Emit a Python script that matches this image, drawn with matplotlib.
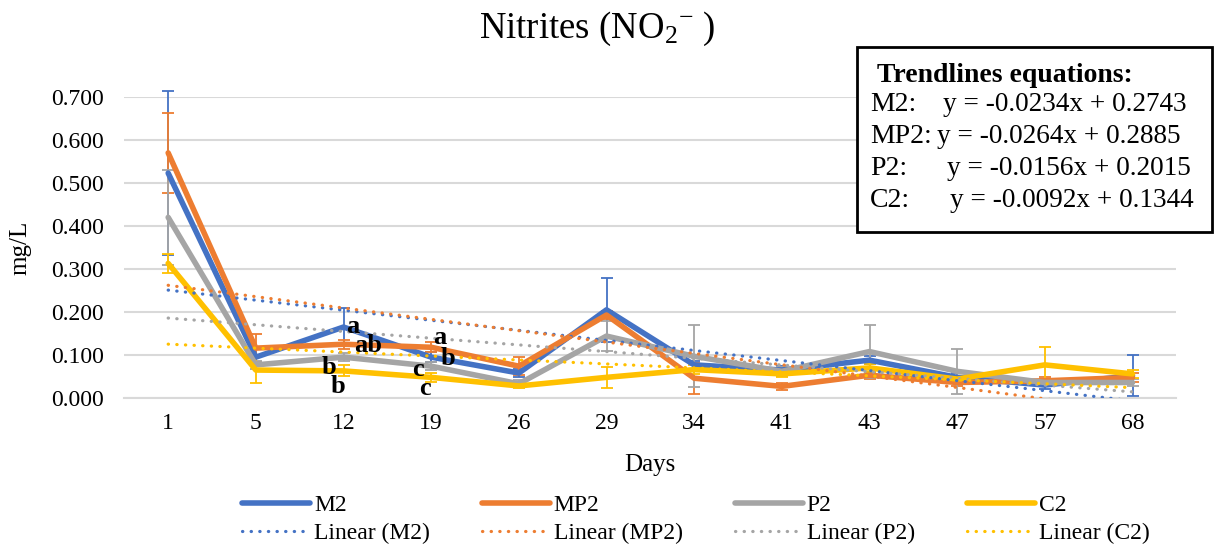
import matplotlib
matplotlib.use('Agg')
import matplotlib.pyplot as plt
import numpy as np

plt.rcParams['font.family'] = ['Liberation Serif', 'DejaVu Serif']
plt.rcParams['mathtext.fontset'] = 'custom'
plt.rcParams['mathtext.rm'] = 'Liberation Serif'
plt.rcParams['mathtext.it'] = 'Liberation Serif:italic'

days = ['1', '5', '12', '19', '26', '29', '34', '41', '43', '47', '57', '68']
series = ['M2', 'MP2', 'P2', 'C2']
colors = ['#4472C4', '#ED7D31', '#A5A5A5', '#FFC000']

m2 = [0.523, 0.095, 0.165, 0.095, 0.058, 0.205, 0.077, 0.065, 0.088, 0.048, 0.030, 0.052]
mp2 = [0.570, 0.116, 0.125, 0.118, 0.074, 0.193, 0.046, 0.027, 0.053, 0.036, 0.040, 0.048]
p2 = [0.420, 0.077, 0.095, 0.074, 0.033, 0.144, 0.097, 0.062, 0.108, 0.062, 0.036, 0.036]
c2 = [0.313, 0.065, 0.063, 0.048, 0.028, 0.048, 0.066, 0.056, 0.070, 0.044, 0.077, 0.056]

m2_err = [0.19, 0.02, 0.045, 0.012, 0.010, 0.075, 0.010, 0.010, 0.010, 0.010, 0.010, 0.047]
mp2_err = [0.093, 0.033, 0.010, 0.012, 0.021, 0.010, 0.036, 0.008, 0.008, 0.008, 0.008, 0.010]
p2_err = [0.110, 0.010, 0.010, 0.010, 0.008, 0.035, 0.072, 0.010, 0.062, 0.052, 0.008, 0.008]
c2_err = [0.023, 0.030, 0.013, 0.010, 0.005, 0.025, 0.010, 0.008, 0.010, 0.008, 0.041, 0.010]

# linear trendlines (x = position index 1..12)
slopes = [-0.0234, -0.0264, -0.0156, -0.0092]
intercepts = [0.2743, 0.2885, 0.2015, 0.1344]

# significance letters: (x position, y, text)
letters_x = [3.11, 3.28, 2.83, 2.94, 4.10, 4.19, 3.85, 3.93]
letters_y = [0.167, 0.121, 0.070, 0.026, 0.140, 0.092, 0.066, 0.021]
letters_txt = ['a', 'ab', 'b', 'b', 'a', 'b', 'c', 'c']

values = [m2, mp2, p2, c2]
errors = [m2_err, mp2_err, p2_err, c2_err]

fig = plt.figure(figsize=(12.19, 5.47), dpi=100)
ax = fig.add_axes([0.102, 0.2724, 0.863, 0.5503])

x = np.arange(1, len(days) + 1)
main_lines, trend_lines = [], []
for i, (name, vals, err, col) in enumerate(zip(series, values, errors, colors)):
    ax.errorbar(x, vals, yerr=err, fmt='none', ecolor=col, elinewidth=1.3,
                capsize=4, capthick=1.3, zorder=2 + i * 0.1, clip_on=False)
    ln, = ax.plot(x, vals, color=col, lw=4, solid_joinstyle='round',
                  solid_capstyle='round', zorder=3 + i * 0.1, label=name)
    main_lines.append(ln)

for i, (name, s, b, col) in enumerate(zip(series, slopes, intercepts, colors)):
    ln, = ax.plot(x, s * x + b, color=col, lw=2.3, linestyle=(0, (0.1, 2.6)),
                  dash_capstyle='round', zorder=4 + i * 0.1, label=f'Linear ({name})')
    trend_lines.append(ln)

for lx, ly, t in zip(letters_x, letters_y, letters_txt):
    ax.text(lx, ly, t, fontsize=19, fontweight='bold', ha='center', va='center', zorder=6)

ax.set_xlim(0.5, len(days) + 0.5)
ax.set_ylim(0, 0.7)
ax.set_yticks(np.arange(0, 0.71, 0.1))
ax.set_yticklabels([f'{v:.3f}' for v in np.arange(0, 0.71, 0.1)])
ax.set_xticks(x)
ax.set_xticklabels(days)
ax.tick_params(axis='both', length=0, labelsize=17)
ax.tick_params(axis='y', pad=15)
ax.tick_params(axis='x', pad=11)
ax.grid(axis='y', color='#D9D9D9', lw=1.5)
ax.set_axisbelow(True)
for sp in ['top', 'right', 'left']:
    ax.spines[sp].set_visible(False)
ax.spines['bottom'].set_color('#D9D9D9')
ax.spines['bottom'].set_linewidth(1.5)

ax.set_xlabel('Days', fontsize=18, labelpad=14)
ax.set_ylabel('mg/L', fontsize=18, labelpad=14)

fig.text(0.49, 0.93, r'Nitrites (NO$_2$$^{-}$ )', fontsize=26.5, ha='center', va='baseline')

# legend: series on the first row, trendlines on the second (column-major fill)
handles, labels = [], []
for ml, tl in zip(main_lines, trend_lines):
    handles += [ml, tl]
    labels += [ml.get_label(), tl.get_label()]
fig.legend(handles, labels, loc='upper left', bbox_to_anchor=(242 / 1219, 0.096), ncol=4,
           frameon=False, fontsize=17, handlelength=2.9, columnspacing=2.2,
           handletextpad=0.15, labelspacing=0.29, borderpad=0, borderaxespad=0)

# box with trendline equations
box = plt.Rectangle((0.703, 0.576), 0.291, 0.338, transform=fig.transFigure,
                    fill=True, facecolor='white', edgecolor='black', lw=2, zorder=10)
fig.add_artist(box)
fig.text(0.7195, 0.850, 'Trendlines equations:', fontsize=20, fontweight='bold',
         va='baseline', zorder=11)
eq_names = ['M2:', 'MP2:', 'P2:', 'C2:']
eq_x = [943, 937, 947, 950]
for k, (nm, s, b) in enumerate(zip(eq_names, slopes, intercepts)):
    yb = 0.797 - k * 0.0585
    fig.text(0.7137, yb, nm, fontsize=20, va='baseline', zorder=11)
    fig.text(eq_x[k] / 1219, yb, f'y = {s:.4f}x + {b:.4f}', fontsize=19.6,
             va='baseline', zorder=11)

fig.savefig('out.png', dpi=100)
